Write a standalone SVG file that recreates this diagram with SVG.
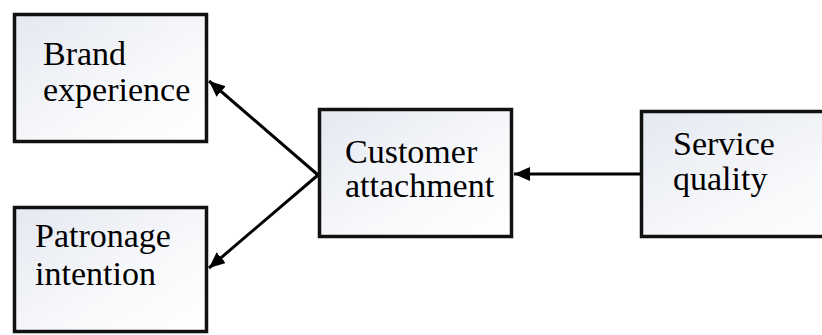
<svg xmlns="http://www.w3.org/2000/svg" width="822" height="335" viewBox="0 0 822 335">
  <defs>
    <linearGradient id="boxfill" x1="0" y1="0" x2="1" y2="1">
      <stop offset="0" stop-color="#e4e8f0"/>
      <stop offset="0.6" stop-color="#f8f9fb"/>
      <stop offset="1" stop-color="#ffffff"/>
    </linearGradient>
    <marker id="arrow" markerUnits="userSpaceOnUse" markerWidth="18" markerHeight="14" refX="16" refY="7" orient="auto">
      <path d="M0,0 L16,7 L0,14 Z" fill="#000"/>
    </marker>
  </defs>
  <style>
    .box { fill: url(#boxfill); stroke: #111; stroke-width: 3.5; }
    .lbl { font-family: "Liberation Serif", "Times New Roman", serif; font-size: 34px; fill: #000; }
    .conn { stroke: #000; stroke-width: 3; fill: none; marker-end: url(#arrow); }
  </style>
  <rect width="822" height="335" fill="#ffffff"/>
  <g id="brand-experience">
    <rect class="box" x="14.5" y="14.5" width="192" height="127"/>
    <text class="lbl" x="43" y="65">Brand</text>
    <text class="lbl" x="43" y="101">experience</text>
  </g>
  <g id="patronage-intention">
    <rect class="box" x="14.5" y="207.5" width="192" height="124"/>
    <text class="lbl" x="35" y="247">Patronage</text>
    <text class="lbl" x="35" y="285">intention</text>
  </g>
  <g id="customer-attachment">
    <rect class="box" x="319.5" y="109.5" width="192" height="127"/>
    <text class="lbl" x="345" y="163">Customer</text>
    <text class="lbl" x="345" y="197">attachment</text>
  </g>
  <g id="service-quality">
    <rect class="box" x="641.5" y="111.5" width="250" height="125"/>
    <text class="lbl" x="673" y="155">Service</text>
    <text class="lbl" x="673" y="190">quality</text>
  </g>
  <g id="connectors">
    <line class="conn" x1="318" y1="175" x2="209" y2="81"/>
    <line class="conn" x1="318" y1="175" x2="209" y2="268"/>
    <line class="conn" x1="640" y1="174" x2="514" y2="174"/>
  </g>
</svg>
